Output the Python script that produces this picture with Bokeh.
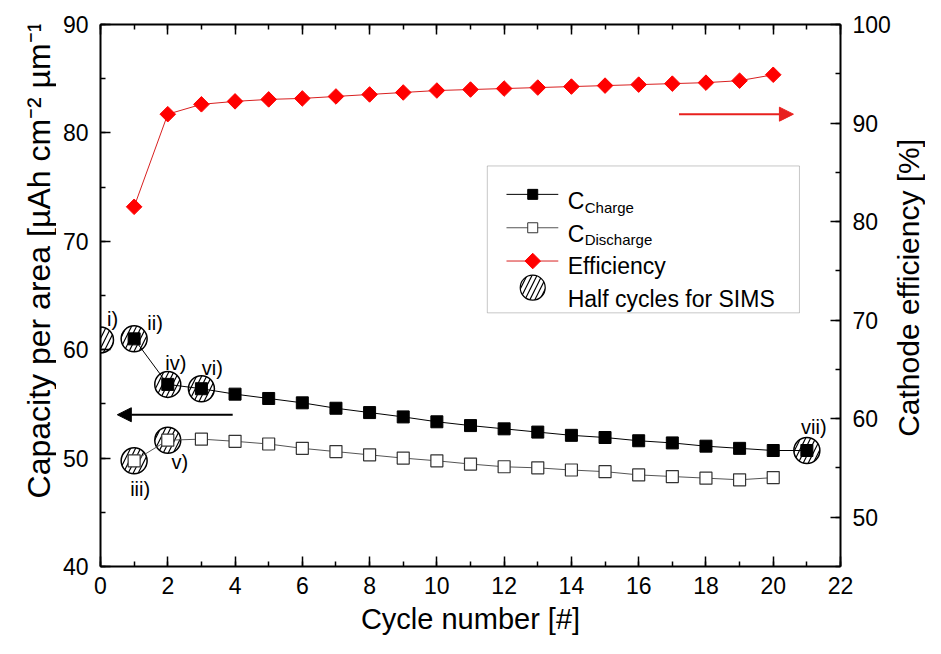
import numpy as np
from bokeh.plotting import figure
from bokeh.layouts import row
from bokeh.models import (Range1d, LinearAxis, SingleIntervalTicker, Arrow,
                          NormalHead, BoxAnnotation)
from bokeh.core.properties import value
from bokeh.embed import file_html
from bokeh.resources import INLINE

FONT = "Liberation Sans"
W, H = 925, 638
LEFT_W, RIGHT_W = 56, 32

# data
charge_cycle = list(range(1, 22))
charge = [61.0, 56.8, 56.4, 55.9, 55.5, 55.1, 54.6, 54.2, 53.8, 53.35, 53.0,
          52.7, 52.4, 52.1, 51.9, 51.6, 51.4, 51.1, 50.9, 50.7, 50.7]
discharge_cycle = list(range(1, 21))
discharge = [49.75, 51.65, 51.75, 51.55, 51.3, 50.9, 50.6, 50.3, 50.0, 49.75,
             49.45, 49.2, 49.1, 48.9, 48.75, 48.45, 48.3, 48.15, 48.0, 48.2]
eff_cycle = list(range(1, 21))
efficiency = [81.5, 90.9, 91.9, 92.2, 92.4, 92.5, 92.7, 92.9, 93.1, 93.3,
              93.4, 93.5, 93.6, 93.7, 93.8, 93.9, 94.0, 94.1, 94.3, 94.9]
sims_cycle = [0, 1, 1, 2, 2, 3, 21]
sims_capacity = [60.9, 61.0, 49.75, 56.8, 51.65, 56.4, 50.7]
sims_labels = ["i)", "ii)", "iii)", "iv)", "v)", "vi)", "vii)"]

# label offsets from their circle, in pixels
label_dx = [12, 21, 6, 8, 12, 11, 7]
label_dy = [-21, -16, 28, -21, 22, -21, -24]

p = figure(width=W - LEFT_W - RIGHT_W, height=H, x_range=Range1d(0, 22),
           y_range=Range1d(40, 90), output_backend="svg", toolbar_location=None,
           min_border_left=100 - LEFT_W, min_border_right=85 - RIGHT_W,
           min_border_top=24, min_border_bottom=72)
p.extra_y_ranges = {"eff": Range1d(45, 100)}
p.grid.visible = False
p.outline_line_color = None
p.background_fill_color = "white"

xt = SingleIntervalTicker(interval=2, num_minor_ticks=2)
yt = SingleIntervalTicker(interval=10, num_minor_ticks=2)
rt = SingleIntervalTicker(interval=10, num_minor_ticks=2)


def style(ax):
    ax.axis_line_width = 2
    ax.major_tick_in = 10
    ax.major_tick_out = 0
    ax.minor_tick_in = 5
    ax.minor_tick_out = 0
    ax.major_tick_line_width = 1.5
    ax.minor_tick_line_width = 1.5
    ax.major_label_text_font = FONT
    ax.major_label_text_font_size = "23px"
    ax.major_label_text_color = "black"
    ax.axis_label_text_font = FONT
    ax.axis_label_text_font_size = "29px"
    ax.axis_label_text_font_style = "normal"
    ax.axis_label_text_color = "black"


p.xaxis.ticker = xt
p.yaxis.ticker = yt
style(p.xaxis[0])
style(p.yaxis[0])
p.xaxis.axis_label = "Cycle number [#]"
p.xaxis.major_label_standoff = 10
p.xaxis.axis_label_standoff = 6
p.yaxis.major_label_standoff = 12

right = LinearAxis(y_range_name="eff", ticker=rt)
style(right)
right.major_label_standoff = 12
p.add_layout(right, "right")

top = LinearAxis(ticker=xt)
style(top)
top.major_label_overrides = {v: "" for v in range(0, 23, 2)}
top.major_label_text_font_size = "6px"
top.major_label_standoff = 0
p.add_layout(top, "above")

# half cycles used for SIMS
p.scatter(sims_cycle, sims_capacity, marker="circle", size=26, fill_color="white",
          line_color="black", line_width=1.5, hatch_pattern="/", hatch_color="black",
          hatch_weight=1.2, hatch_scale=10)

p.line(charge_cycle, charge, line_color="black", line_width=1)
p.scatter(charge_cycle, charge, marker="square", size=12, fill_color="black",
          line_color="black")

p.line(discharge_cycle, discharge, line_color="#555555", line_width=1)
p.scatter(discharge_cycle, discharge, marker="square", size=12, fill_color="white",
          line_color="#333333", line_width=1.2)

p.line(eff_cycle, efficiency, y_range_name="eff", line_color="#d82020", line_width=1)
p.scatter(eff_cycle, efficiency, y_range_name="eff", marker="square", angle=np.pi / 4,
          size=11, fill_color="#ff0000", line_color="#ff0000")

p.text(sims_cycle, sims_capacity, text=sims_labels, x_offset=label_dx, y_offset=label_dy,
       text_align="center", text_baseline="middle", text_font=value(FONT),
       text_font_size="20px", text_color="black")

# direction arrows
p.add_layout(Arrow(end=NormalHead(size=14, fill_color="black", line_color="black"),
                   x_start=3.93, y_start=54.0, x_end=0.5, y_end=54.0,
                   line_color="black", line_width=2))
p.add_layout(Arrow(end=NormalHead(size=14, fill_color="#e8201e", line_color="#e8201e"),
                   x_start=17.2, y_start=90.9, x_end=20.6, y_end=90.9,
                   y_range_name="eff", line_color="#e8201e", line_width=2))

# legend, drawn by hand to get the subscripts
p.add_layout(BoxAnnotation(left=11.5, right=20.78, bottom=63.4, top=76.95,
                           fill_color=None, line_color="#444444", line_width=1))
lx0, lx1, lxm, ltx = 12.07, 13.61, 12.85, 13.89
rows = [74.33, 71.25, 68.18, 65.72]
p.segment(lx0, rows[0], lx1, rows[0], line_color="black", line_width=1)
p.scatter(lxm, rows[0], marker="square", size=10, fill_color="black", line_color="black")
p.segment(lx0, rows[1], lx1, rows[1], line_color="#555555", line_width=1)
p.scatter(lxm, rows[1], marker="square", size=10, fill_color="white", line_color="#333333")
p.segment(lx0, rows[2], lx1, rows[2], line_color="#d82020", line_width=1)
p.scatter(lxm, rows[2], marker="square", angle=np.pi / 4, size=11, fill_color="#ff0000",
          line_color="#ff0000")
p.scatter(lxm, rows[3], marker="circle", size=25, fill_color="white", line_color="black",
          line_width=1.2, hatch_pattern="/", hatch_color="black", hatch_weight=1.2,
          hatch_scale=10)

txt = dict(text_font=value(FONT), text_color="black", text_baseline="alphabetic",
           text_align="left")
p.text([ltx, ltx, ltx, ltx], [73.71, 70.64, 67.72, 64.65],
       text=["C", "C", "Efficiency", "Half cycles for SIMS"], text_font_size="23px", **txt)
p.text([ltx, ltx], [73.1, 70.18], text=["Charge", "Discharge"], x_offset=[17, 17],
       text_font_size="15px", **txt)


# the two y titles read bottom to top, each in a narrow strip beside the plot
def title_strip(width, title, cx, cy, size):
    s = figure(width=width, height=H, x_range=Range1d(0, width), y_range=Range1d(0, H),
               output_backend="svg", toolbar_location=None, min_border=0)
    s.axis.visible = False
    s.grid.visible = False
    s.outline_line_color = None
    s.text([cx], [H - cy], text=[title], angle=np.pi / 2, text_align="center",
           text_baseline="middle", text_font=value(FONT), text_font_size=size,
           text_color="black")
    return s


left_strip = title_strip(LEFT_W, "Capacity per area [µAh cm⁻² µm⁻¹]", 38, 272, "32px")
right_strip = title_strip(RIGHT_W, "Cathode efficiency [%]", 15, 310, "30px")

layout = row(left_strip, p, right_strip, spacing=0)
open("out.html", "w").write(file_html(layout, INLINE))
